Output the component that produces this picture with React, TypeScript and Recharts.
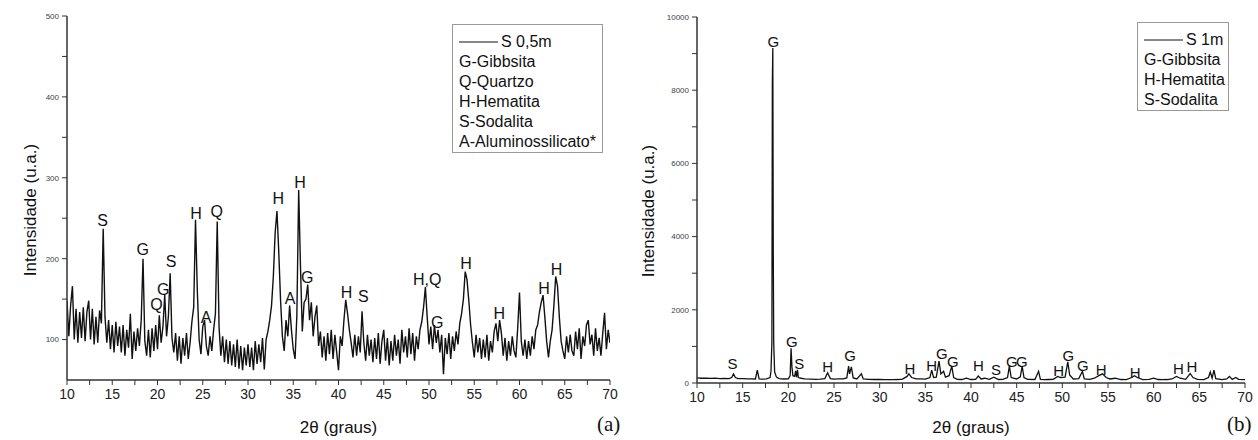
import { LineChart, Line, XAxis, YAxis, ReferenceDot, Legend, Label } from "recharts";

const SANS = '"Liberation Sans", Arial, sans-serif';
const SERIF = '"Liberation Serif", "Times New Roman", serif';

// (a) S 0,5m — step scan from 10° to 70°, 0.2° per point
const SCAN_A_START = 10;
const SCAN_A_STEP = 0.2;
const scanAIntensity = [
  148, 104, 142, 166, 100, 138, 96, 134, 102, 140, // 10-11.8
  98, 134, 148, 100, 138, 94, 128, 96, 136, 120, // 12-13.8
  237, 128, 96, 124, 88, 118, 84, 122, 92, 116, // 14-15.8
  84, 118, 80, 112, 90, 132, 76, 110, 86, 114, // 16-17.8
  92, 124, 200, 98, 80, 112, 78, 114, 86, 118, // 18-19.8
  88, 130, 96, 116, 155, 104, 128, 182, 102, 84, // 20-21.8
  108, 74, 104, 70, 102, 80, 108, 76, 96, 122, // 22-23.8
  140, 248, 160, 100, 82, 116, 124, 92, 80, 104, // 24-25.8
  86, 112, 132, 246, 116, 80, 104, 72, 100, 70, // 26-27.8
  98, 68, 94, 66, 100, 64, 92, 62, 90, 68, // 28-29.8
  94, 66, 90, 62, 98, 70, 94, 72, 102, 63, // 30-31.8
  100, 110, 124, 142, 178, 232, 259, 208, 148, 104, // 32-33.8
  86, 124, 104, 142, 112, 88, 76, 130, 285, 190, // 34-35.8
  110, 146, 150, 168, 124, 146, 104, 128, 142, 92, // 36-37.8
  110, 78, 104, 74, 108, 82, 112, 76, 106, 84, // 38-39.8
  62, 104, 92, 124, 149, 132, 112, 96, 78, 106, // 40-41.8
  80, 104, 84, 135, 96, 74, 106, 80, 100, 72, // 42-43.8
  102, 76, 108, 70, 98, 112, 74, 102, 68, 98, // 44-45.8
  74, 106, 80, 100, 70, 112, 84, 104, 78, 114, // 46-47.8
  82, 108, 74, 104, 88, 112, 122, 140, 165, 128, // 48-49.8
  94, 116, 88, 118, 96, 112, 84, 106, 57, 102, // 50-51.8
  82, 108, 76, 104, 86, 110, 94, 120, 132, 150, // 52-53.8
  184, 174, 148, 118, 96, 78, 106, 84, 102, 76, // 54-55.8
  100, 78, 106, 74, 98, 84, 110, 120, 98, 124, // 56-57.8
  108, 80, 102, 74, 98, 80, 104, 86, 78, 114, // 58-59.8
  158, 98, 80, 100, 76, 98, 80, 104, 88, 112, // 60-61.8
  118, 134, 146, 155, 128, 98, 78, 98, 112, 142, // 62-63.8
  178, 166, 128, 98, 86, 76, 104, 84, 106, 86, // 64-65.8
  80, 110, 88, 114, 76, 104, 92, 118, 124, 94, // 66-67.8
  106, 80, 114, 86, 102, 80, 108, 133, 88, 112, // 68-69.8
  96, // 70
];

// (b) S 1m — [2θ, intensity]
const scanB: [number, number][] = [
  [10, 140], [10.5, 130], [11, 135], [11.5, 125], [12, 132], [12.5, 120], [13, 128], [13.5, 120],
  [13.8, 150], [14, 250], [14.2, 150], [14.5, 120], [15, 118], [15.5, 110], [16, 112], [16.4, 110],
  [16.6, 350], [16.8, 110], [17.2, 108], [17.6, 115], [18, 150], [18.1, 320], [18.2, 1100],
  [18.25, 8200], [18.3, 9150], [18.35, 3600], [18.4, 1100], [18.5, 300], [18.7, 160], [19, 120],
  [19.5, 110], [20, 115], [20.2, 200], [20.3, 950], [20.4, 420], [20.5, 200], [20.7, 180],
  [20.8, 330], [20.9, 160], [21, 360], [21.1, 150], [21.4, 130], [21.8, 115], [22.5, 105],
  [23, 100], [23.5, 105], [24, 120], [24.3, 280], [24.6, 120], [25, 105], [25.5, 110], [26, 110],
  [26.4, 140], [26.6, 460], [26.7, 250], [26.9, 440], [27.1, 140], [27.5, 110], [28, 250],
  [28.2, 110], [28.8, 100], [29.5, 95], [30, 95], [30.5, 90], [31, 92], [31.5, 90], [32, 95],
  [32.5, 105], [33, 180], [33.2, 250], [33.5, 150], [34, 110], [34.5, 110], [35, 105], [35.5, 150],
  [35.7, 350], [35.9, 150], [36.2, 160], [36.5, 600], [36.7, 250], [37, 320], [37.2, 160],
  [37.6, 200], [37.9, 460], [38.1, 150], [38.5, 100], [39, 95], [39.5, 130], [40, 95], [40.5, 100],
  [40.8, 190], [41.1, 110], [41.5, 130], [42, 100], [42.5, 160], [43, 95], [43.5, 100], [44, 150],
  [44.2, 460], [44.4, 150], [45, 110], [45.4, 170], [45.6, 460], [45.8, 150], [46.2, 100],
  [47, 95], [47.4, 320], [47.6, 100], [48, 90], [48.5, 95], [49, 100], [49.5, 180], [49.8, 150],
  [50.3, 160], [50.6, 580], [50.8, 220], [51.2, 110], [51.8, 120], [52.2, 320], [52.4, 110],
  [53, 100], [53.5, 130], [54, 200], [54.4, 250], [54.8, 150], [55.2, 110], [55.8, 130], [56.4, 95],
  [57, 90], [57.6, 150], [57.9, 200], [58.2, 150], [58.8, 90], [59.5, 100], [60, 130], [60.5, 95],
  [61, 90], [61.5, 95], [62, 110], [62.5, 180], [62.9, 130], [63.5, 100], [64, 260], [64.3, 150],
  [64.8, 100], [65.5, 90], [66, 150], [66.2, 300], [66.4, 130], [66.6, 350], [66.8, 120],
  [67.5, 90], [68, 110], [68.3, 180], [68.6, 100], [69, 150], [69.3, 100], [70, 90],
];

// phase letters, anchored in data units
const peaksA = [
  { t: "S", x: 13.94, y: 248 }, { t: "G", x: 18.36, y: 211 }, { t: "Q", x: 19.9, y: 144 },
  { t: "G", x: 20.64, y: 162 }, { t: "S", x: 21.5, y: 197 }, { t: "H", x: 24.25, y: 256 },
  { t: "A", x: 25.36, y: 128 }, { t: "Q", x: 26.54, y: 258 }, { t: "H", x: 33.35, y: 274 },
  { t: "A", x: 34.64, y: 151 }, { t: "H", x: 35.75, y: 294 }, { t: "G", x: 36.55, y: 177 },
  { t: "H", x: 40.9, y: 158 }, { t: "S", x: 42.74, y: 153 }, { t: "H,Q", x: 49.8, y: 175 },
  { t: "G", x: 50.9, y: 121 }, { t: "H", x: 54.09, y: 194 }, { t: "H", x: 57.77, y: 132 },
  { t: "H", x: 62.7, y: 163 }, { t: "H", x: 64.1, y: 187 },
];

const peaksB = [
  { t: "G", x: 18.36, y: 9325 }, { t: "S", x: 13.9, y: 520 }, { t: "G", x: 20.37, y: 1130 },
  { t: "S", x: 21.2, y: 538 }, { t: "H", x: 24.3, y: 445 }, { t: "G", x: 26.76, y: 738 },
  { t: "H", x: 33.3, y: 400 }, { t: "H", x: 35.7, y: 473 }, { t: "G", x: 36.8, y: 811 },
  { t: "G", x: 38.0, y: 582 }, { t: "H", x: 40.8, y: 464 }, { t: "S", x: 42.75, y: 355 },
  { t: "G", x: 44.47, y: 582 }, { t: "G", x: 45.56, y: 582 }, { t: "H", x: 49.6, y: 337 },
  { t: "G", x: 50.67, y: 738 }, { t: "G", x: 52.25, y: 473 }, { t: "H", x: 54.25, y: 355 },
  { t: "H", x: 57.97, y: 282 }, { t: "H", x: 62.7, y: 400 }, { t: "H", x: 64.18, y: 445 },
];

const legendA = ["G-Gibbsita", "Q-Quartzo", "H-Hematita", "S-Sodalita", "A-Aluminossilicato*"];
const legendB = ["G-Gibbsita", "H-Hematita", "S-Sodalita"];

const xTicks = [10, 12.5, 15, 17.5, 20, 22.5, 25, 27.5, 30, 32.5, 35, 37.5, 40, 42.5, 45, 47.5, 50, 52.5, 55, 57.5, 60, 62.5, 65, 67.5, 70];
const yTicksA = [100, 150, 200, 250, 300, 350, 400, 450, 500];
const yTicksB = [0, 1000, 2000, 3000, 4000, 5000, 6000, 7000, 8000, 9000, 10000];

const dataA = scanAIntensity.map((v, i) => ({ angle: +(SCAN_A_START + i * SCAN_A_STEP).toFixed(1), value: v }));
const dataB = scanB.map(([a, v]) => ({ angle: a, value: v }));

const AXIS = { stroke: "#333", strokeWidth: 1.5 };

function LegendBox({ name, items, width }: { name: string; items: string[]; width: number }) {
  return (
    <div style={{ width, border: "1px solid #999", padding: "7px 0 0 6px", boxSizing: "border-box", fontFamily: SANS, fontSize: 16, lineHeight: "20px", color: "#111", background: "#fff" }}>
      <div style={{ display: "flex", alignItems: "center" }}>
        <svg width={40} height={20}><line x1={0} y1={10} x2={39} y2={10} stroke="#111" strokeWidth={1} /></svg>
        <span style={{ marginLeft: 2 }}>{name}</span>
      </div>
      {items.map((it) => (
        <div key={it} style={{ whiteSpace: "nowrap" }}>{it}</div>
      ))}
    </div>
  );
}

type PanelProps = {
  left: number;
  data: { angle: number; value: number }[];
  peaks: { t: string; x: number; y: number }[];
  yDomain: [number, number];
  yTicks: number[];
  yMajor: number;
  margin: { top: number; right: number; left: number; bottom: number };
  xAxisHeight: number;
  titleGap: number;
  titleShift: number;
  peakFont: number;
  lineWidth: number;
  seriesName: string;
  legendItems: string[];
  legendPos: { left: number; top: number; width: number };
  tag: string;
  tagLeft: number;
};

function XrdPanel(p: PanelProps) {
  const renderYTitle = (props: any) => {
    const vb = props.viewBox || {};
    const cx = vb.x + vb.width - p.titleGap;
    const cy = vb.y + vb.height / 2 + p.titleShift;
    return (
      <text x={cx} y={cy} transform={`rotate(-90 ${cx} ${cy})`} textAnchor="middle" dominantBaseline="central" fontSize={17} fontFamily={SANS} fill="#111">
        Intensidade (u.a.)
      </text>
    );
  };

  return (
    <div style={{ position: "absolute", left: p.left, top: 0, width: 629, height: 440 }}>
      <LineChart width={629} height={440} data={p.data} margin={p.margin}>
        <XAxis
          dataKey="angle"
          type="number"
          domain={[10, 70]}
          ticks={xTicks}
          interval={0}
          allowDataOverflow
          tickFormatter={(v: number) => (v % 5 === 0 ? String(v) : "")}
          tick={{ fontSize: 14, fill: "#222", fontFamily: SANS }}
          tickSize={5}
          tickMargin={4}
          axisLine={AXIS}
          tickLine={{ stroke: "#333" }}
          height={p.xAxisHeight}
        >
          <Label value="2θ (graus)" position="insideBottom" offset={7} style={{ fontSize: 17, fill: "#111", fontFamily: SANS }} />
        </XAxis>
        <XAxis xAxisId="top" orientation="top" type="number" domain={[10, 70]} tick={false} tickLine={false} axisLine={AXIS} height={0} />
        <YAxis
          type="number"
          domain={p.yDomain}
          ticks={p.yTicks}
          interval={0}
          allowDataOverflow
          tickFormatter={(v: number) => (v % p.yMajor === 0 ? String(v) : "")}
          tick={{ fontSize: 8, fill: "#3a3f4a", fontFamily: SANS }}
          tickSize={5}
          tickMargin={3}
          axisLine={AXIS}
          tickLine={{ stroke: "#333" }}
          width={40}
        >
          <Label content={renderYTitle} />
        </YAxis>
        <YAxis yAxisId="right" orientation="right" type="number" domain={p.yDomain} tick={false} tickLine={false} axisLine={AXIS} width={0} />
        <Line type="linear" dataKey="value" stroke="#111" strokeWidth={p.lineWidth} dot={false} isAnimationActive={false} />
        {p.peaks.map((pk, i) => (
          <ReferenceDot
            key={i}
            x={pk.x}
            y={pk.y}
            r={0}
            fill="none"
            stroke="none"
            ifOverflow="visible"
            label={{ value: pk.t, position: "center", fill: "#111", fontSize: p.peakFont, fontFamily: SANS }}
          />
        ))}
        <Legend
          layout="vertical"
          align="center"
          verticalAlign="middle"
          wrapperStyle={{ left: p.legendPos.left, top: p.legendPos.top, width: p.legendPos.width }}
          content={() => <LegendBox name={p.seriesName} items={p.legendItems} width={p.legendPos.width} />}
        />
      </LineChart>
      <div style={{ position: "absolute", left: p.tagLeft, top: 412, fontFamily: SERIF, fontSize: 21, color: "#111" }}>{p.tag}</div>
    </div>
  );
}

export default function App() {
  return (
    <div style={{ position: "absolute", left: 0, top: 0, width: 1258, height: 440, background: "#fff" }}>
      <XrdPanel
        left={0}
        data={dataA}
        peaks={peaksA}
        yDomain={[50, 500]}
        yTicks={yTicksA}
        yMajor={100}
        margin={{ top: 16, right: 19, left: 27, bottom: 0 }}
        xAxisHeight={60}
        titleGap={37}
        titleShift={12}
        peakFont={16}
        lineWidth={1.4}
        seriesName="S 0,5m"
        legendItems={legendA}
        legendPos={{ left: 452, top: 24, width: 151 }}
        tag="(a)"
        tagLeft={597}
      />
      <XrdPanel
        left={629}
        data={dataB}
        peaks={peaksB}
        yDomain={[0, 10000]}
        yTicks={yTicksB}
        yMajor={2000}
        margin={{ top: 17, right: 13, left: 28, bottom: 0 }}
        xAxisHeight={57}
        titleGap={49}
        titleShift={11}
        peakFont={15}
        lineWidth={1.3}
        seriesName="S 1m"
        legendItems={legendB}
        legendPos={{ left: 508, top: 22, width: 92 }}
        tag="(b)"
        tagLeft={598}
      />
    </div>
  );
}
